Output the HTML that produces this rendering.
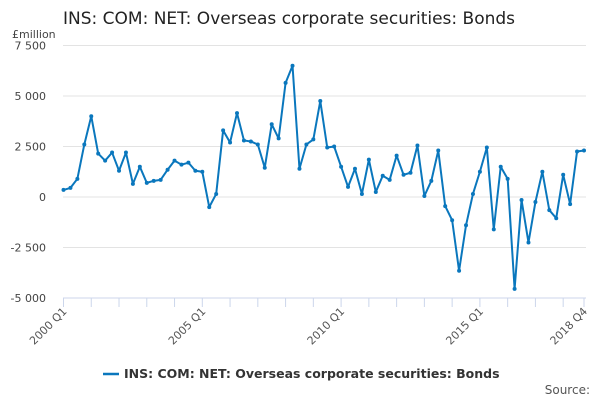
<!DOCTYPE html>
<html><head><meta charset="utf-8"><style>
body{margin:0;background:#fff;font-family:"Liberation Sans","DejaVu Sans",sans-serif;}
</style></head><body>
<svg width="600" height="400" xmlns="http://www.w3.org/2000/svg" style="font-family:'DejaVu Sans','Liberation Sans',sans-serif">
<text x="63" y="24" font-size="17" fill="#222">INS: COM: NET: Overseas corporate securities: Bonds</text>
<text x="12" y="38" font-size="11" fill="#444">£million</text>
<g id="grid"></g><g id="xaxis"></g><g id="series"></g>
<g>
<line x1="103" y1="374" x2="119" y2="374" stroke="#0a77bd" stroke-width="2.5"/>
<text x="124" y="378" font-size="12.5" font-weight="bold" fill="#333">INS: COM: NET: Overseas corporate securities: Bonds</text>
</g>
<text x="590" y="394" font-size="12" fill="#555" text-anchor="end">Source:</text>
</svg>
<script>
const values=[350,450,900,2600,4000,2150,1800,2200,1300,2200,650,1500,700,800,850,1350,1800,1600,1700,1300,1250,-500,150,3300,2700,4150,2800,2750,2600,1450,3600,2900,5650,6500,1400,2600,2850,4750,2450,2500,1500,500,1400,150,1850,250,1050,850,2050,1100,1200,2550,50,800,2300,-450,-1150,-3650,-1400,150,1250,2450,-1600,1500,900,-4550,-150,-2250,-250,1250,-650,-1050,1100,-350,2250,2300];
const yTicks=[7500,5000,2500,0,-2500,-5000];
const yTickLabels=["7 500","5 000","2 500","0","-2 500","-5 000"];
const xLabels=["2000 Q1","2005 Q1","2010 Q1","2015 Q1","2018 Q4"];
const xLabelIdx=[0,20,40,60,75];
const NS="http://www.w3.org/2000/svg";
const x=i=>63.5+i*(520.5/(values.length-1));
const y=v=>197-v*(50.5/2500);
function mk(t,a,p){const e=document.createElementNS(NS,t);for(const k in a)e.setAttribute(k,a[k]);p.appendChild(e);return e;}
const grid=document.getElementById('grid');
yTicks.forEach((t,i)=>{
 const l=mk('line',{x1:63,x2:586,y1:y(t),y2:y(t),stroke:t===-5000?'#ccd6eb':'#e3e3e3','stroke-width':1},grid);
 
 
 const tx=mk('text',{x:46,y:y(t)+4,'font-size':11,fill:'#444','text-anchor':'end'},grid);
 tx.textContent=yTickLabels[i];
 
 
});
const xa=document.getElementById('xaxis');
for(let i=0;i<values.length;i+=4){
 const tk=mk('line',{x1:x(i),x2:x(i),y1:298,y2:307,stroke:'#ccd6eb'},xa);
 
 
}
const lt=mk('line',{x1:x(75),x2:x(75),y1:298,y2:307,stroke:'#ccd6eb'},xa);


xLabels.forEach((s,j)=>{
 const xx=x(xLabelIdx[j])+4,yy=312;
 const t=mk('text',{x:xx,y:yy,'font-size':11,fill:'#555','text-anchor':'end',transform:`rotate(-45 ${xx} ${yy})`},xa);
 t.textContent=s;
 
 
});
const sg=document.getElementById('series');
const pl=mk('polyline',{points:values.map((v,i)=>x(i)+','+y(v)).join(' '),fill:'none',stroke:'#0a77bd','stroke-width':2,'stroke-linejoin':'round'},sg);


values.forEach((v,i)=>{
 const c=mk('circle',{cx:x(i),cy:y(v),r:2,fill:'#0a77bd'},sg);
 
 
});
</script>
</body></html>
